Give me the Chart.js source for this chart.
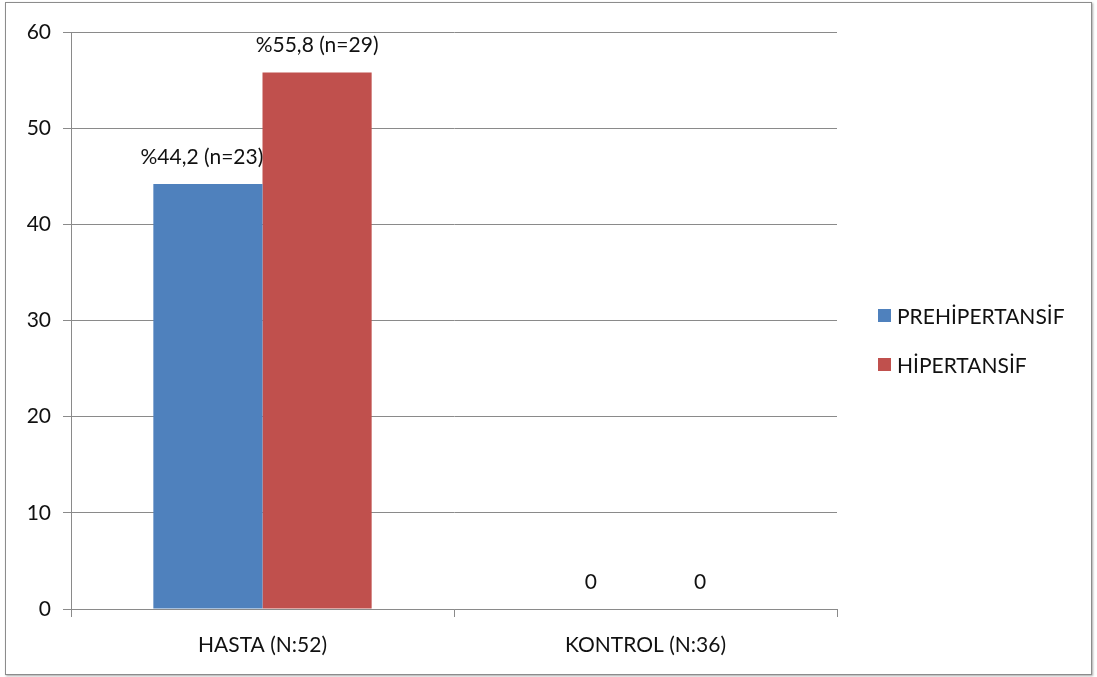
<!DOCTYPE html>
<html>
<head>
<meta charset="utf-8">
<script src="https://cdn.jsdelivr.net/npm/chart.js@4"></script>
<style>
  body { margin: 0; background: #ffffff; }
  #wrap { position: relative; width: 1097px; height: 677px; }
  #frame {
    position: absolute; left: 5px; top: 2px; width: 1085px; height: 671px;
    border: 1px solid #8c8c8c; box-shadow: 1px 1px 2px rgba(0,0,0,0.35);
    pointer-events: none;
  }
  #legend { position: absolute; left: 878px; top: 302px; font-family: Lato, "Noto Sans", sans-serif; font-size: 21px; color: #111; }
  .item { display: flex; align-items: center; height: 26px; margin-bottom: 23px; }
  .swatch { width: 13px; height: 13px; margin-right: 6px; }
</style>
</head>
<body>
<div id="wrap">
  <canvas id="chart" width="1097" height="677"></canvas>
  <div id="frame"></div>
  <div id="legend"></div>
</div>
<script>
// categories and series (percent values)
const categories = ["HASTA (N:52)", "KONTROL (N:36)"];
const seriesNames = ["PREHİPERTANSİF", "HİPERTANSİF"];
const prehipertansif = [44.2, 0];
const hipertansif = [55.8, 0];
const prehipertansifLabels = ["%44,2 (n=23)", "0"];
const hipertansifLabels = ["%55,8 (n=29)", "0"];
const seriesColors = ["#4F81BD", "#C0504D"];

const FONT = "Lato, 'Noto Sans', sans-serif";
const GRID = "#8a8a8a";

// draws the text above each bar
const barLabelPlugin = {
  id: "barLabels",
  afterDatasetsDraw(chart) {
    const ctx = chart.ctx;
    ctx.save();
    ctx.font = "21px " + FONT;
    ctx.fillStyle = "#111";
    ctx.textAlign = "center";
    ctx.textBaseline = "middle";
    chart.data.datasets.forEach((ds, i) => {
      const meta = chart.getDatasetMeta(i);
      meta.data.forEach((bar, j) => {
        ctx.fillText(ds.valueLabels[j], bar.x - (i === 0 && j === 0 ? 6 : 0), bar.y - 27);
      });
    });
    ctx.restore();
  }
};

const chart = new Chart(document.getElementById("chart"), {
  type: "bar",
  data: {
    labels: categories,
    datasets: [
      { label: seriesNames[0], data: prehipertansif, valueLabels: prehipertansifLabels, backgroundColor: seriesColors[0] },
      { label: seriesNames[1], data: hipertansif, valueLabels: hipertansifLabels, backgroundColor: seriesColors[1] }
    ]
  },
  options: {
    responsive: false,
    animation: false,
    devicePixelRatio: 1,
    layout: { padding: { left: 0, top: 32, right: 260, bottom: 0 } },
    datasets: { bar: { categoryPercentage: 0.57, barPercentage: 1.0 } },
    plugins: {
      legend: { display: false },
      tooltip: { enabled: false }
    },
    scales: {
      x: {
        grid: { offset: true, drawOnChartArea: false, drawTicks: true, tickLength: 8, color: GRID },
        border: { display: true, color: GRID },
        ticks: { font: { family: FONT, size: 21 }, color: "#111", padding: 16 },
        afterFit: (scale) => { scale.height = 68; }
      },
      y: {
        min: 0,
        max: 60,
        ticks: { stepSize: 10, font: { family: FONT, size: 21 }, color: "#111", padding: 12 },
        grid: { color: GRID, tickLength: 8 },
        border: { display: true, color: GRID },
        afterFit: (scale) => { scale.width = 71; }
      }
    }
  },
  plugins: [barLabelPlugin]
});

// legend built from the datasets
const legendEl = document.getElementById("legend");
chart.data.datasets.forEach((ds) => {
  const item = document.createElement("div");
  item.className = "item";
  const sw = document.createElement("span");
  sw.className = "swatch";
  sw.style.background = ds.backgroundColor;
  const txt = document.createElement("span");
  txt.textContent = ds.label;
  item.appendChild(sw);
  item.appendChild(txt);
  legendEl.appendChild(item);
});
</script>
</body>
</html>
